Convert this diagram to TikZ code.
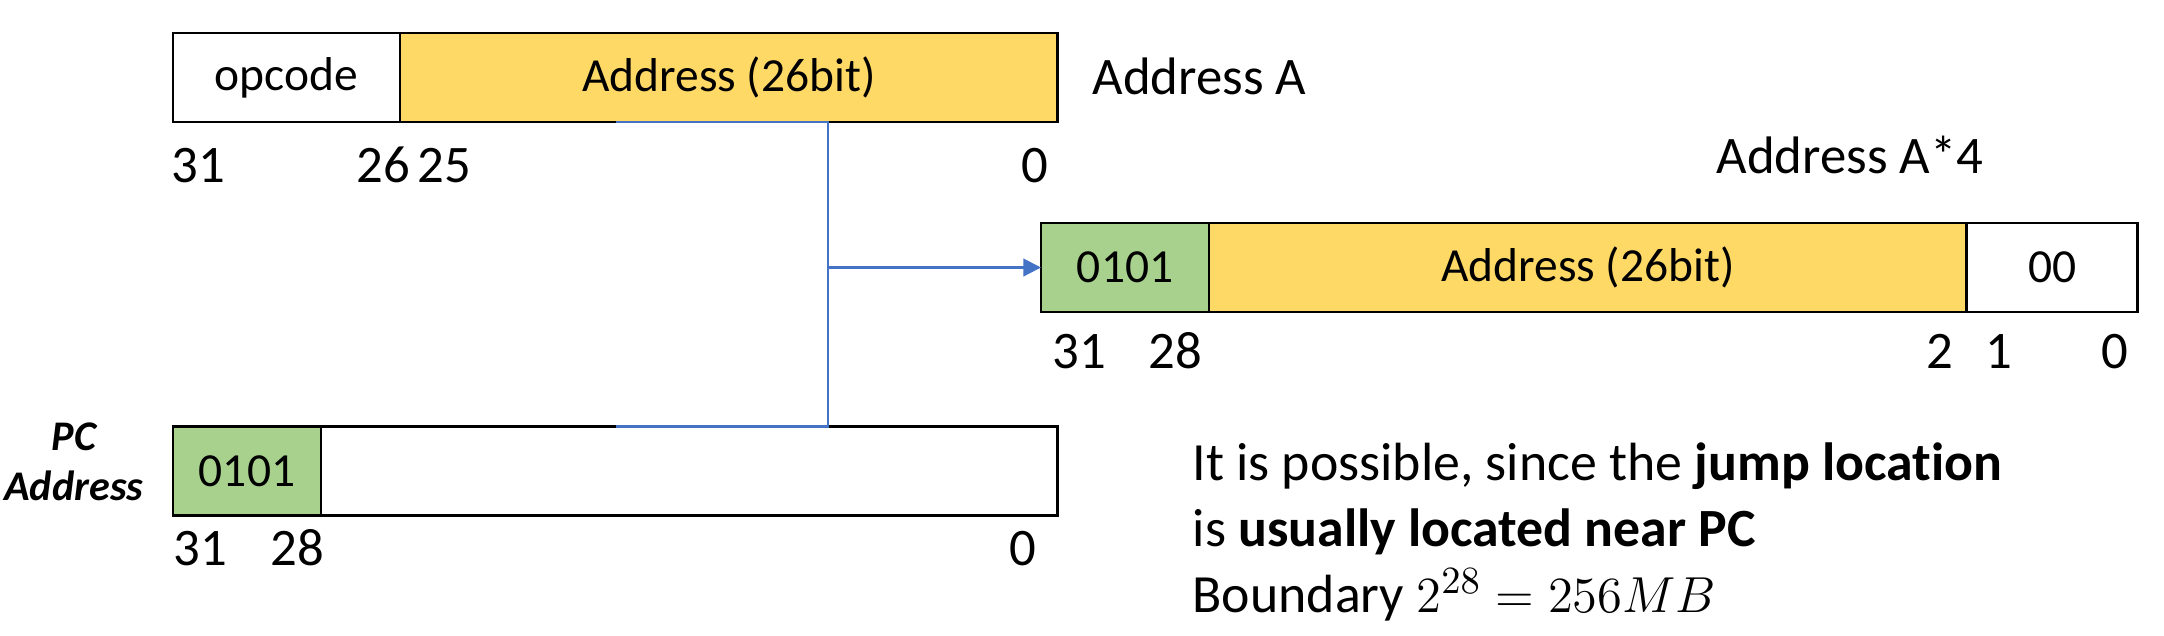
\documentclass[tikz,border=0pt]{standalone}
\usepackage{fontspec}
\setmainfont{Carlito}[Ligatures={NoCommon}]
\usetikzlibrary{positioning,arrows.meta}
\definecolor{fieldyellow}{HTML}{FFD966}
\definecolor{fieldgreen}{HTML}{A9D18E}
\definecolor{linkblue}{HTML}{4472C4}

\begin{document}
\begin{tikzpicture}[
    x=0.01cm, y=-0.01cm,
    node distance=0pt,
    font=\fontsize{15}{18}\selectfont,
    field/.style={
      draw,
      fill=white,
      line width=0.75pt,
      minimum height=0.89cm,
      inner sep=0,
      outer sep=0,
      font=\fontsize{13.5}{16}\selectfont
    },
    bit/.style={inner sep=0},
    link/.style={draw=linkblue, line width=0.6pt}
  ]
  \useasboundingbox (0,0) rectangle (2164,635);

  % J-type instruction
  \node [field] (opcode) [anchor=west, minimum width=2.27cm] at (173,77.5) {opcode};
  \node [field, fill=fieldyellow] (addr) [right=of opcode, minimum width=6.57cm] {Address (26bit)};
  \node [bit, anchor=base west] (addrA) at (1092,94) {Address A};

  \node [bit, anchor=base west] (t31) at (171,182) {31};
  \node [bit, anchor=base east] (t26) at (411,182) {26};
  \node [bit, anchor=base west] (t25) at (417,182) {25};
  \node [bit, anchor=base east] (t0) at (1049,182) {0};

  % shifted target address
  \node [bit, anchor=base west] (addrA4) at (1716,173) {Address A*4};
  \node [field, fill=fieldgreen] (hi) [anchor=west, minimum width=1.68cm] at (1041,267.5) {0101};
  \node [field, fill=fieldyellow] (mid) [right=of hi, minimum width=7.57cm] {Address (26bit)};
  \node [field] (low) [right=of mid, minimum width=1.71cm] {00};

  \node [bit, anchor=base west] (m31) at (1052,368) {31};
  \node [bit, anchor=base east] (m28) at (1203,368) {28};
  \node [bit, anchor=base east] (m2) at (1954,368) {2};
  \node [bit, anchor=base west] (m1) at (1985,368) {1};
  \node [bit, anchor=base east] (m0) at (2129,368) {0};

  % program counter
  \node [bit, align=center, anchor=east, font=\fontsize{12}{14.2}\selectfont\bfseries\itshape] (pclabel) at (144,461.5) {PC\\Address};
  \node [field, fill=fieldgreen] (pchi) [anchor=west, minimum width=1.48cm] at (173,471) {0101};
  \node [field] (pcrest) [right=of pchi, minimum width=7.36cm] {};

  \node [bit, anchor=base west] (b31) at (173,565) {31};
  \node [bit, anchor=base east] (b28) at (325,565) {28};
  \node [bit, anchor=base east] (b0) at (1037,565) {0};

  % note
  \node [bit, anchor=base west, font=\fontsize{15.3}{18}\selectfont] (note1) at (1192,480) {It is possible, since the \textbf{jump location}};
  \node [bit, anchor=base west, font=\fontsize{15.3}{18}\selectfont] (note2) at (1192,546) {is \textbf{usually located near PC}};
  \node [bit, anchor=base west, font=\fontsize{15.3}{18}\selectfont] (note3) at (1192,612) {Boundary $2^{28} = 256MB$};

  % connector
  \coordinate (tap) at (616,0);
  \coordinate (trunk) at (828,0);
  \draw [link] (tap |- addr.south) -- (trunk |- addr.south) -- (trunk |- pcrest.north) -- (tap |- pcrest.north);
  \draw [link, -{Triangle[length=5pt, width=5pt]}] (trunk |- hi.west) -- (hi.west);
\end{tikzpicture}
\end{document}
